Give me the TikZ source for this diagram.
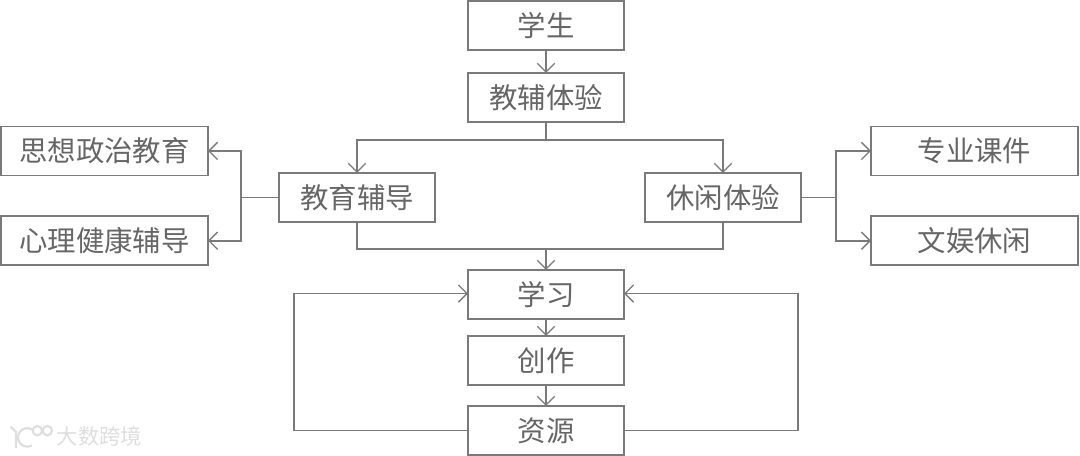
\documentclass[tikz,border=0pt]{standalone}
\usepackage{fontspec}
\setmainfont{Noto Sans CJK SC}
\usetikzlibrary{arrows.meta,calc,positioning}
\definecolor{boxLine}{HTML}{7A7A7A}
\definecolor{boxInk}{HTML}{666666}
\definecolor{markGray}{HTML}{DEDEDE}
\tikzset{
  plain box/.style={
    draw=boxLine,
    fill=white,
    line width=1.2pt,
    outer sep=0pt,
    minimum width=117pt,
    minimum height=36.75pt,
    font=\fontsize{21.3pt}{24pt}\selectfont,
    text=boxInk
  },
  wide box/.style={
    plain box,
    minimum width=155.25pt
  },
  flow edge/.style={
    -{Straight Barb[length=6.5pt,width=13pt,line width=1pt]},
    draw=boxLine,
    line width=1.2pt
  },
  bare edge/.style={
    draw=boxLine,
    line width=1.2pt
  },
  mark line/.style={
    draw=markGray,
    line width=1.6pt
  }
}
\begin{document}
\begin{tikzpicture}
  \useasboundingbox (0pt,0pt) rectangle (810pt,-342pt);

  \node[plain box] (student) at (409.5pt,-19.1pt) {学生};
  \node[plain box,below=17.25pt of student] (tutoring) {教辅体验};
  \node[plain box,below left=38.25pt and 24.75pt of tutoring] (guidance) {教育辅导};
  \node[plain box,below right=38.25pt and 15.75pt of tutoring] (leisure) {休闲体验};

  \node[wide box,left=53.25pt of guidance,yshift=34.9pt] (ideology) {思想政治教育};
  \node[wide box,below=30.6pt of ideology] (mental) {心理健康辅导};
  \node[wide box,right=52.5pt of leisure,yshift=34.9pt] (courseware) {专业课件};
  \node[wide box,below=30.6pt of courseware] (recreation) {文娱休闲};

  \node[plain box,below=111pt of tutoring] (study) {学习};
  \node[plain box,below=12.75pt of study] (create) {创作};
  \node[plain box,below=15.75pt of create] (resource) {资源};

  \coordinate (split-top) at ($(tutoring.south)+(0,-13.5pt)$);
  \coordinate (merge-bottom) at ($(study.north)+(0,15.75pt)$);
  \coordinate (split-left) at ($(guidance.west)+(-28.5pt,0)$);
  \coordinate (split-right) at ($(leisure.east)+(26.25pt,0)$);
  \coordinate (loop-left) at ($(resource.west)+(-130.5pt,0)$);
  \coordinate (loop-right) at ($(resource.east)+(130.5pt,0)$);

  \draw[flow edge] (student) -- (tutoring);
  \draw[bare edge] (tutoring.south) -- (split-top);
  \draw[flow edge] (split-top) -| (guidance.north);
  \draw[flow edge] (split-top) -| (leisure.north);

  \draw[bare edge] (guidance.west) -- (split-left);
  \draw[flow edge] (split-left) |- (ideology.east);
  \draw[flow edge] (split-left) |- (mental.east);
  \draw[bare edge] (leisure.east) -- (split-right);
  \draw[flow edge] (split-right) |- (courseware.west);
  \draw[flow edge] (split-right) |- (recreation.west);

  \draw[bare edge] (guidance.south) |- (merge-bottom);
  \draw[bare edge] (leisure.south) |- (merge-bottom);
  \draw[flow edge] (merge-bottom) -- (study.north);

  \draw[flow edge] (study) -- (create);
  \draw[flow edge] (create) -- (resource);
  \draw[flow edge] (resource.west) -- (loop-left) |- ($(study.west)+(0,0.7pt)$);
  \draw[flow edge] (resource.east) -- (loop-right) |- ($(study.east)+(0,0.7pt)$);

  % watermark
  \draw[mark line] (8pt,-320pt) -- (12pt,-324pt) -- (12pt,-336pt);
  \draw[mark line] (24pt,-322pt) arc[start angle=60,end angle=300,radius=7pt];
  \draw[mark line] (28pt,-323pt) circle[radius=3.5pt];
  \draw[mark line] (35.5pt,-323pt) circle[radius=3.5pt];
  \node[font=\fontsize{16pt}{18pt}\selectfont,text=markGray,anchor=west,inner sep=0pt] (mark) at (42.5pt,-327pt) {大数跨境};
\end{tikzpicture}
\end{document}
